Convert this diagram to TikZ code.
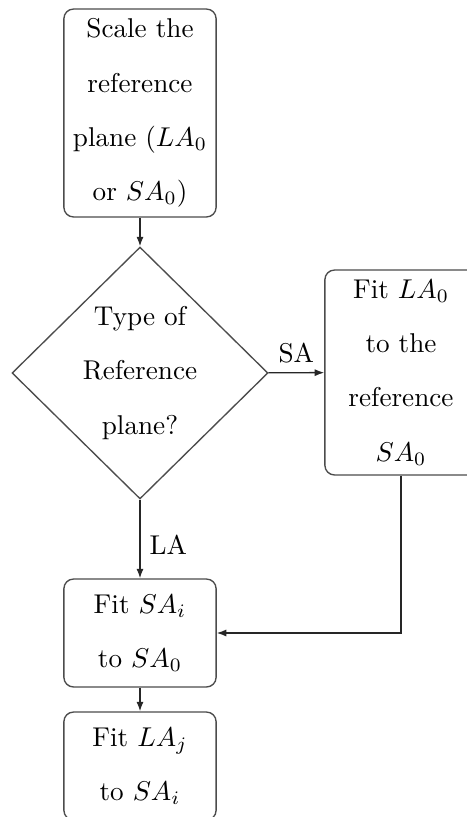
\documentclass[tikz,border=0pt]{standalone}
\usetikzlibrary{shapes.geometric,arrows.meta}
\begin{document}
\begin{tikzpicture}[x=0.368pt,y=-0.368pt,
  txt/.style={font=\fontsize{10}{20}\selectfont},
  box/.style={txt, draw=black!70, line width=0.5pt, rounded corners=3.5pt, minimum width=56pt, align=center, inner sep=0pt},
  dec/.style={txt, draw=black!70, line width=0.5pt, shape=diamond, minimum width=94.2pt, minimum height=92.7pt, inner sep=0pt, align=center},
  arr/.style={-{Latex[length=3.5pt,width=2.6pt]}, line width=0.5pt, draw=black!85}]
\useasboundingbox (0,0) rectangle (467,817);
\node[box, minimum height=76.5pt] (scale) at (140,113) {Scale the\\reference\\plane ($LA_0$\\or $SA_0$)};
\node[dec] (type) at (140,373) {Type of\\Reference\\plane?};
\node[box, minimum height=75.4pt] (fitla0) at (401,372.5) {Fit $LA_0$\\to the\\reference\\$SA_0$};
\node[box, minimum height=39.7pt] (fitsai) at (140,633) {Fit $SA_i$\\to $SA_0$};
\node[box, minimum height=39.7pt] (fitlaj) at (140,766) {Fit $LA_j$\\to $SA_i$};
\draw[arr] (scale) -- (type);
\draw[arr] (type) -- node[txt, above] {SA} (fitla0);
\draw[arr] (type) -- node[txt, right, pos=0.57] {LA} (fitsai);
\draw[arr] (fitla0.south) |- (fitsai.east);
\draw[arr] (fitsai) -- (fitlaj);
\end{tikzpicture}
\end{document}
